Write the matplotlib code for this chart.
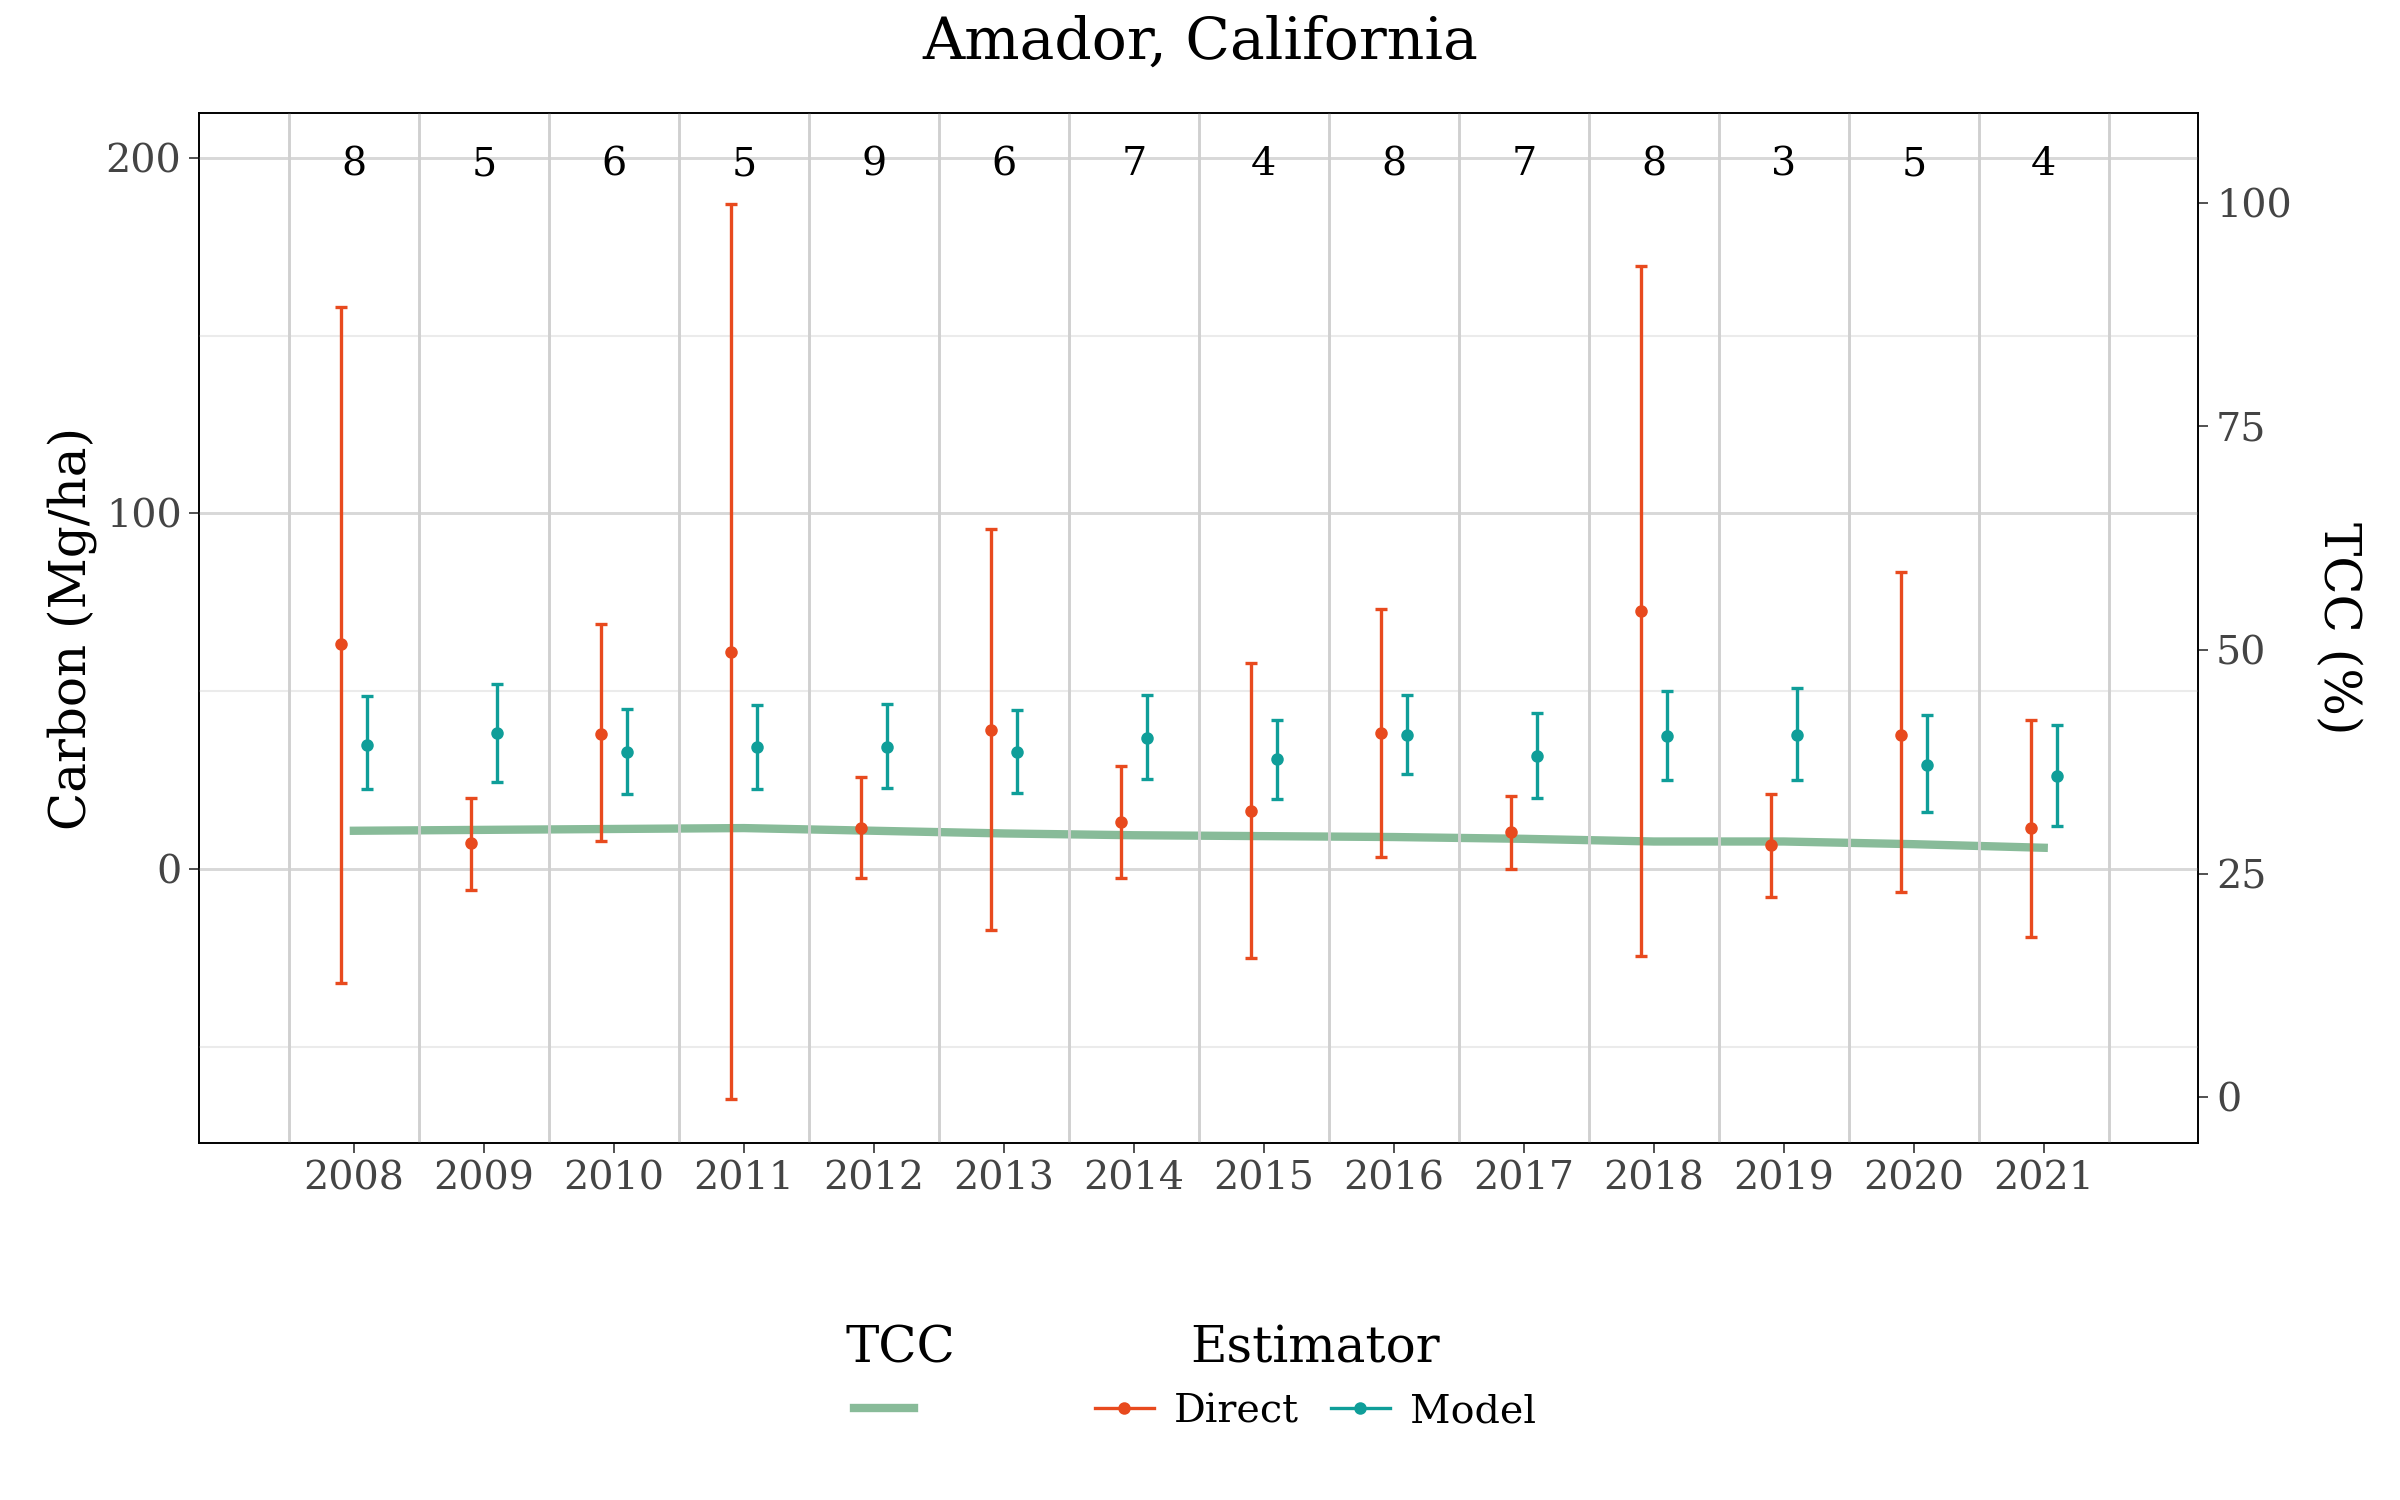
import numpy as np
import matplotlib.pyplot as plt
from matplotlib.lines import Line2D

plt.rcParams['font.family'] = ['DejaVu Serif']

years = np.arange(2008, 2022)
counts = [8, 5, 6, 5, 9, 6, 7, 4, 8, 7, 8, 3, 5, 4]

direct = [63.2, 7.3, 38, 61, 11.6, 39, 13.3, 16.3, 38.3, 10.3, 72.7, 6.9, 37.8, 11.6]
direct_hi = [158, 20, 69, 187, 26, 95.5, 29, 58, 73, 20.6, 169.5, 21, 83.4, 42]
direct_lo = [-32, -6, 8, -64.5, -2.6, -17, -2.6, -25, 3.4, 0, -24.5, -7.7, -6.5, -19]

model = [35, 38.3, 33, 34.4, 34.4, 33, 37, 31, 37.8, 31.8, 37.4, 37.8, 29.2, 26.2]
model_hi = [48.6, 52, 45, 46, 46.5, 44.7, 49, 42, 49, 43.9, 50, 50.8, 43.4, 40.4]
model_lo = [22.4, 24.5, 21, 22.4, 22.8, 21.5, 25.4, 19.8, 26.7, 20, 25, 25, 16, 12]

tcc = [29.8, 29.9, 30.0, 30.1, 29.8, 29.5, 29.3, 29.2, 29.1, 28.9, 28.6, 28.6, 28.3, 27.9]

c_direct = "#E84A1E"
c_model = "#0F9E99"
c_tcc = "#88BB99"

fig = plt.figure(figsize=(16, 10), dpi=150)
ax = fig.add_axes([0.083, 0.238, 0.833, 0.6865])

# grid
for v in [-50, 50, 150]:
    ax.axhline(v, color="#EBEBEB", lw=1, zorder=0)
for v in [0, 100, 200]:
    ax.axhline(v, color="#D8D8D8", lw=1.4, zorder=0)
for x in np.arange(2007.5, 2022, 1):
    ax.axvline(x, color="#D0D0D0", lw=1.4, zorder=0)

d = np.array(direct)
m = np.array(model)
ax.errorbar(years - 0.1, d, yerr=[d - np.array(direct_lo), np.array(direct_hi) - d],
            fmt="o", color=c_direct, ms=5, capsize=3, lw=1.6, capthick=1.6, zorder=3)
ax.errorbar(years + 0.1, m, yerr=[m - np.array(model_lo), np.array(model_hi) - m],
            fmt="o", color=c_model, ms=5, capsize=3, lw=1.6, capthick=1.6, zorder=3)

for yr, n in zip(years, counts):
    ax.text(yr, 198, str(n), ha="center", va="center", fontsize=19)

ax.set_xlim(2006.81, 2022.19)
ax.set_ylim(-77, 212.5)
ax.set_xticks(years)
ax.set_yticks([0, 100, 200])
ax.tick_params(labelsize=19, labelcolor="#444444", color="#333333", length=5)
ax.set_ylabel("Carbon (Mg/ha)", fontsize=24)

ax2 = ax.twinx()
ax2.plot(years, tcc, color=c_tcc, lw=4, zorder=2)
ax2.set_ylim(-5.1, 110)
ax2.set_yticks([0, 25, 50, 75, 100])
ax2.tick_params(labelsize=19, labelcolor="#444444", color="#333333", length=5)
ax2.set_ylabel("TCC (%)", fontsize=24, rotation=270, labelpad=34)
ax.set_zorder(ax2.get_zorder() + 1)
ax.patch.set_visible(False)

fig.suptitle("Amador, California", fontsize=28, y=0.99)

h1 = [Line2D([], [], color=c_tcc, lw=4)]
fig.legend(h1, [""], title="TCC", loc="center", bbox_to_anchor=(0.375, 0.082),
           frameon=False, fontsize=19, title_fontsize=24, handlelength=1.5)
h2 = [Line2D([], [], color=c_direct, marker="o", ms=5, lw=1.6),
      Line2D([], [], color=c_model, marker="o", ms=5, lw=1.6)]
fig.legend(h2, ["Direct", "Model"], title="Estimator", ncol=2, loc="center",
           bbox_to_anchor=(0.548, 0.082), frameon=False, fontsize=19, title_fontsize=24,
           handlelength=1.5, columnspacing=0.8, handletextpad=0.5)

fig.savefig("out.png")
